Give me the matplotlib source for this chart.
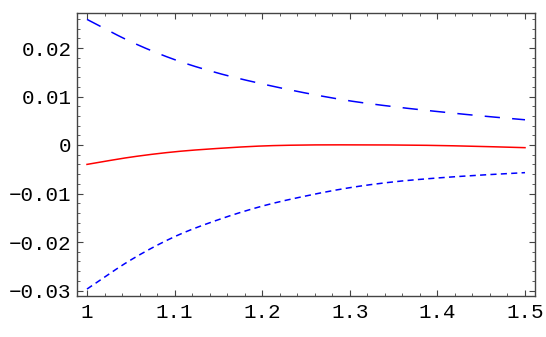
import matplotlib
matplotlib.use("Agg")
import matplotlib.pyplot as plt
from matplotlib.ticker import MultipleLocator, FixedLocator
import numpy as np

x = [1.0, 1.05, 1.1, 1.15, 1.2, 1.25, 1.3, 1.35, 1.4, 1.45, 1.5]
upper = [0.0259, 0.0213, 0.0176, 0.0148, 0.0126, 0.0107, 0.0091, 0.0079, 0.0069, 0.0060, 0.0052]
lower = [-0.0297, -0.0237, -0.0189, -0.0154, -0.0126, -0.0105, -0.0088, -0.0076, -0.0068, -0.0062, -0.0057]
middle = [-0.0040, -0.0025, -0.0014, -0.0007, -0.0002, 0.0000, 0.00003, 0.0000, -0.0001, -0.0003, -0.00055]

xticks = [1.0, 1.1, 1.2, 1.3, 1.4, 1.5]
xticklabels = ["1", "1.1", "1.2", "1.3", "1.4", "1.5"]
yticks = [-0.03, -0.02, -0.01, 0.0, 0.01, 0.02]
yticklabels = ["\u22120.03", "\u22120.02", "\u22120.01", "0", "0.01", "0.02"]

plt.rcParams['font.family'] = ['Liberation Mono', 'DejaVu Sans Mono']

fig = plt.figure(figsize=(5.46, 3.37), dpi=100)
ax = fig.add_axes([77/546, 1-296/337, (535-77)/546, (296-13)/337])

def smooth(xs, ys):
    xs = np.asarray(xs); ys = np.asarray(ys)
    xf = np.linspace(xs[0], xs[-1], 300)
    m = np.gradient(ys, xs)
    idx = np.clip(np.searchsorted(xs, xf) - 1, 0, len(xs) - 2)
    h = xs[idx+1] - xs[idx]
    t = (xf - xs[idx]) / h
    h00 = 2*t**3 - 3*t**2 + 1
    h10 = t**3 - 2*t**2 + t
    h01 = -2*t**3 + 3*t**2
    h11 = t**3 - t**2
    out = h00*ys[idx] + h10*h*m[idx] + h01*ys[idx+1] + h11*h*m[idx+1]
    return xf, out

xf, yf = smooth(x, upper)
ax.plot(xf, yf, color=(0, 0, 1), lw=1.1, linestyle=(0, (10, 8)))
xf, yf = smooth(x, lower)
ax.plot(xf, yf, color=(0, 0, 1), lw=1.1, linestyle=(0, (4, 2.8)))
xf, yf = smooth(x, middle)
ax.plot(xf, yf, color=(1, 0, 0), lw=1.1)

ax.set_xlim(1 - 10/876, 1.5 + 10/876)
ax.set_ylim(-(296-145)/4850, (145-13)/4850)

ax.xaxis.set_major_locator(FixedLocator(xticks))
ax.set_xticklabels(xticklabels)
ax.xaxis.set_minor_locator(MultipleLocator(0.02))
ax.yaxis.set_major_locator(FixedLocator(yticks))
ax.set_yticklabels(yticklabels)
ax.yaxis.set_minor_locator(MultipleLocator(0.002))

ax.tick_params(which='both', direction='in', top=True, right=True, colors='#444444',
               labelcolor='black', labelsize=15)
ax.tick_params(which='major', length=4, width=0.8)
ax.tick_params(which='minor', length=2.5, width=0.6)
ax.tick_params(axis='y', pad=4)
ax.tick_params(axis='x', pad=5)
for s in ax.spines.values():
    s.set_color('#444444')
    s.set_linewidth(1.0)

fig.savefig("out.png", dpi=100)
